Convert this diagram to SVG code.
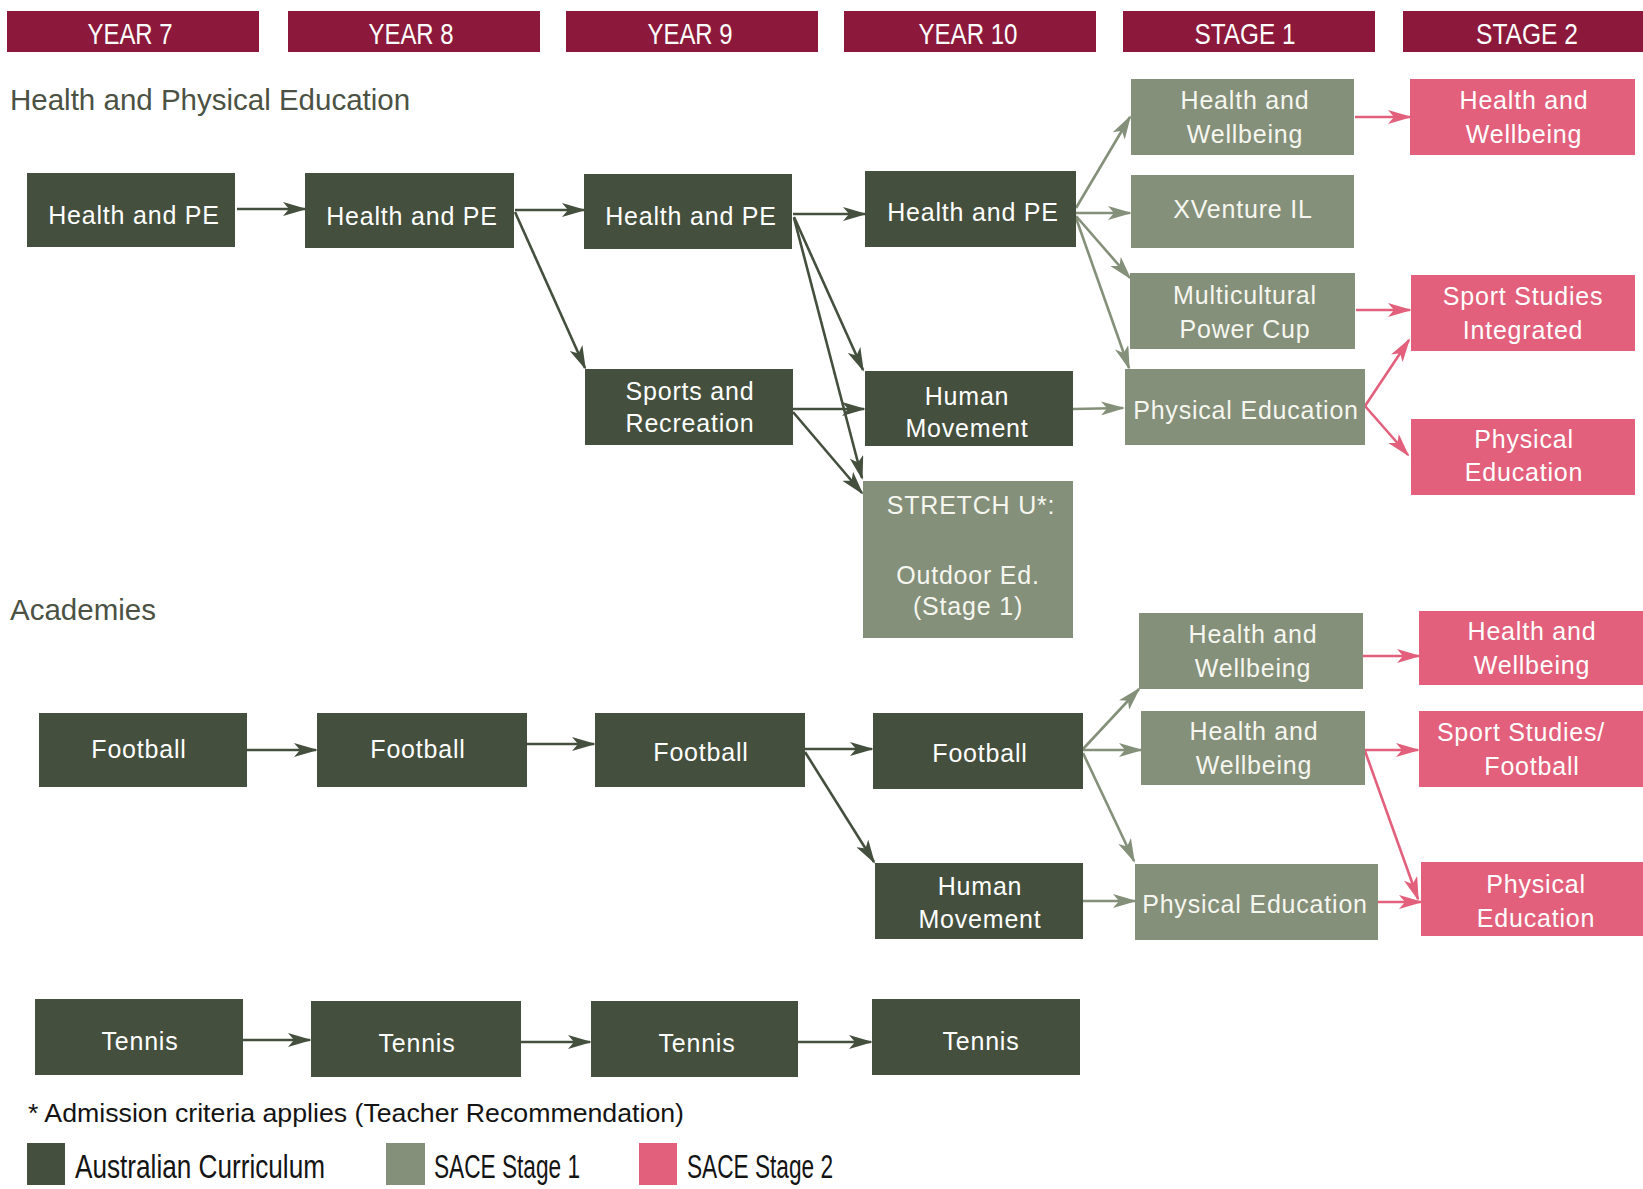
<svg xmlns="http://www.w3.org/2000/svg" width="1643" height="1189" viewBox="0 0 1643 1189">
<style>
.hd{fill:#8c193b}
.ht{font-family:'Liberation Sans',Arial,sans-serif;font-size:30px;fill:#fff;text-anchor:middle}
.sec{font-family:'Liberation Sans',Arial,sans-serif;font-size:29.5px;fill:#4b5244}
.ac{fill:#444f3e}
.s1{fill:#849079}
.s2{fill:#e2607c}
.t{font-family:'Liberation Sans',Arial,sans-serif;font-size:25px;fill:#fff;text-anchor:middle;letter-spacing:0.8px}
.t1{fill:#f6f6f0}
.cd{stroke:#444f3e;stroke-width:2.6;fill:none}
.cg{stroke:#849079;stroke-width:2.6;fill:none}
.cp{stroke:#e2607c;stroke-width:2.6;fill:none}
.note{font-family:'Liberation Sans',Arial,sans-serif;font-size:25px;fill:#141414}
.lg{font-family:'Liberation Sans Narrow','Liberation Sans',Arial,sans-serif;font-size:33px;fill:#141414}
</style>
<defs>
<marker id="ad" viewBox="0 0 24 14" refX="22" refY="7" markerWidth="24" markerHeight="14" markerUnits="userSpaceOnUse" orient="auto"><path d="M0,0 L24,7 L0,14 L6,7 z" fill="#444f3e"/></marker>
<marker id="ag" viewBox="0 0 24 14" refX="22" refY="7" markerWidth="24" markerHeight="14" markerUnits="userSpaceOnUse" orient="auto"><path d="M0,0 L24,7 L0,14 L6,7 z" fill="#849079"/></marker>
<marker id="ap" viewBox="0 0 24 14" refX="22" refY="7" markerWidth="24" markerHeight="14" markerUnits="userSpaceOnUse" orient="auto"><path d="M0,0 L24,7 L0,14 L6,7 z" fill="#e2607c"/></marker>
</defs>
<rect width="1643" height="1189" fill="#ffffff"/>

<g id="headers">
<rect class="hd" x="7" y="11" width="252" height="41"/><text class="ht" x="130" y="44" textLength="85" lengthAdjust="spacingAndGlyphs">YEAR 7</text>
<rect class="hd" x="288" y="11" width="252" height="41"/><text class="ht" x="411" y="44" textLength="85" lengthAdjust="spacingAndGlyphs">YEAR 8</text>
<rect class="hd" x="566" y="11" width="252" height="41"/><text class="ht" x="690" y="44" textLength="85" lengthAdjust="spacingAndGlyphs">YEAR 9</text>
<rect class="hd" x="844" y="11" width="252" height="41"/><text class="ht" x="968" y="44" textLength="99" lengthAdjust="spacingAndGlyphs">YEAR 10</text>
<rect class="hd" x="1123" y="11" width="252" height="41"/><text class="ht" x="1245" y="44" textLength="101" lengthAdjust="spacingAndGlyphs">STAGE 1</text>
<rect class="hd" x="1403" y="11" width="252" height="41"/><text class="ht" x="1527" y="44" textLength="102" lengthAdjust="spacingAndGlyphs">STAGE 2</text>
</g>

<text class="sec" x="10" y="110">Health and Physical Education</text>
<text class="sec" x="10" y="620">Academies</text>

<g id="connectors">
<path class="cd" marker-end="url(#ad)" d="M237,209 L305,209"/>
<path class="cd" marker-end="url(#ad)" d="M515,210 L584,210"/>
<path class="cd" marker-end="url(#ad)" d="M515,212 L585,368"/>
<path class="cd" marker-end="url(#ad)" d="M793,214 L865,214"/>
<path class="cd" marker-end="url(#ad)" d="M794,217 L863,370"/>
<path class="cd" marker-end="url(#ad)" d="M794,218 L862,478"/>
<path class="cd" marker-end="url(#ad)" d="M793,409 L864,409"/>
<path class="cd" marker-end="url(#ad)" d="M793,412 L862,493"/>
<path class="cg" marker-end="url(#ag)" d="M1076,208 L1130,117"/>
<path class="cg" marker-end="url(#ag)" d="M1076,213 L1130,213"/>
<path class="cg" marker-end="url(#ag)" d="M1076,216 L1130,278"/>
<path class="cg" marker-end="url(#ag)" d="M1076,218 L1129,368"/>
<path class="cg" marker-end="url(#ag)" d="M1073,409 L1123,408"/>
<path class="cp" marker-end="url(#ap)" d="M1355,117 L1410,117"/>
<path class="cp" marker-end="url(#ap)" d="M1356,310 L1410,310"/>
<path class="cp" marker-end="url(#ap)" d="M1365,406 L1409,340"/>
<path class="cp" marker-end="url(#ap)" d="M1365,406 L1408,455"/>
<path class="cd" marker-end="url(#ad)" d="M247,750 L316,750"/>
<path class="cd" marker-end="url(#ad)" d="M527,744 L594,744"/>
<path class="cd" marker-end="url(#ad)" d="M805,749 L872,749"/>
<path class="cd" marker-end="url(#ad)" d="M805,752 L874,862"/>
<path class="cg" marker-end="url(#ag)" d="M1083,749 L1139,689"/>
<path class="cg" marker-end="url(#ag)" d="M1083,750 L1141,750"/>
<path class="cg" marker-end="url(#ag)" d="M1083,753 L1134,861"/>
<path class="cg" marker-end="url(#ag)" d="M1083,901 L1135,901"/>
<path class="cp" marker-end="url(#ap)" d="M1363,656 L1419,656"/>
<path class="cp" marker-end="url(#ap)" d="M1365,750 L1418,750"/>
<path class="cp" marker-end="url(#ap)" d="M1365,751 L1418,899"/>
<path class="cp" marker-end="url(#ap)" d="M1378,902 L1421,902"/>
<path class="cd" marker-end="url(#ad)" d="M243,1040 L310,1040"/>
<path class="cd" marker-end="url(#ad)" d="M521,1042 L590,1042"/>
<path class="cd" marker-end="url(#ad)" d="M798,1042 L871,1042"/>
</g>

<g id="hpe7"><rect class="ac" x="27" y="173" width="208" height="74"/><text class="t" x="134" y="224">Health and PE</text></g>
<g id="hpe8"><rect class="ac" x="305" y="173" width="209" height="75"/><text class="t" x="412" y="225">Health and PE</text></g>
<g id="hpe9"><rect class="ac" x="584" y="174" width="208" height="75"/><text class="t" x="691" y="225">Health and PE</text></g>
<g id="hpe10"><rect class="ac" x="865" y="171" width="211" height="76"/><text class="t" x="973" y="221">Health and PE</text></g>
<g id="sportsrec"><rect class="ac" x="585" y="369" width="208" height="76"/><text class="t" x="690" y="400">Sports and</text><text class="t" x="690" y="432">Recreation</text></g>
<g id="hm1"><rect class="ac" x="865" y="371" width="208" height="75"/><text class="t" x="967" y="405">Human</text><text class="t" x="967" y="437">Movement</text></g>
<g id="stretch"><rect class="s1" x="863" y="481" width="210" height="157"/><text class="t t1" x="971" y="514">STRETCH U*:</text><text class="t t1" x="968" y="584">Outdoor Ed.</text><text class="t t1" x="968" y="615">(Stage 1)</text></g>
<g id="s1hw"><rect class="s1" x="1131" y="79" width="223" height="76"/><text class="t t1" x="1245" y="109">Health and</text><text class="t t1" x="1245" y="143">Wellbeing</text></g>
<g id="s1xv"><rect class="s1" x="1131" y="175" width="223" height="73"/><text class="t t1" x="1243" y="218">XVenture IL</text></g>
<g id="s1mpc"><rect class="s1" x="1130" y="273" width="225" height="76"/><text class="t t1" x="1245" y="304">Multicultural</text><text class="t t1" x="1245" y="338">Power Cup</text></g>
<g id="s1pe"><rect class="s1" x="1125" y="369" width="240" height="76"/><text class="t t1" x="1246" y="419">Physical Education</text></g>
<g id="s2hw"><rect class="s2" x="1410" y="79" width="225" height="76"/><text class="t" x="1524" y="109">Health and</text><text class="t" x="1524" y="143">Wellbeing</text></g>
<g id="s2ssi"><rect class="s2" x="1411" y="275" width="224" height="76"/><text class="t" x="1523" y="305">Sport Studies</text><text class="t" x="1523" y="339">Integrated</text></g>
<g id="s2pe"><rect class="s2" x="1411" y="419" width="224" height="76"/><text class="t" x="1524" y="448">Physical</text><text class="t" x="1524" y="481">Education</text></g>

<g id="fb7"><rect class="ac" x="39" y="713" width="208" height="74"/><text class="t" x="139" y="758">Football</text></g>
<g id="fb8"><rect class="ac" x="317" y="713" width="210" height="74"/><text class="t" x="418" y="758">Football</text></g>
<g id="fb9"><rect class="ac" x="595" y="713" width="210" height="74"/><text class="t" x="701" y="761">Football</text></g>
<g id="fb10"><rect class="ac" x="873" y="713" width="210" height="76"/><text class="t" x="980" y="762">Football</text></g>
<g id="hm2"><rect class="ac" x="875" y="863" width="208" height="76"/><text class="t" x="980" y="895">Human</text><text class="t" x="980" y="928">Movement</text></g>
<g id="a1hw1"><rect class="s1" x="1139" y="613" width="224" height="76"/><text class="t t1" x="1253" y="643">Health and</text><text class="t t1" x="1253" y="677">Wellbeing</text></g>
<g id="a1hw2"><rect class="s1" x="1141" y="711" width="224" height="74"/><text class="t t1" x="1254" y="740">Health and</text><text class="t t1" x="1254" y="774">Wellbeing</text></g>
<g id="a1pe"><rect class="s1" x="1135" y="864" width="243" height="76"/><text class="t t1" x="1255" y="913">Physical Education</text></g>
<g id="a2hw"><rect class="s2" x="1419" y="611" width="224" height="74"/><text class="t" x="1532" y="640">Health and</text><text class="t" x="1532" y="674">Wellbeing</text></g>
<g id="a2ssf"><rect class="s2" x="1419" y="711" width="224" height="76"/><text class="t" x="1521" y="741">Sport Studies/</text><text class="t" x="1532" y="775">Football</text></g>
<g id="a2pe"><rect class="s2" x="1421" y="862" width="222" height="74"/><text class="t" x="1536" y="893">Physical</text><text class="t" x="1536" y="927">Education</text></g>

<g id="t7"><rect class="ac" x="35" y="999" width="208" height="76"/><text class="t" x="140" y="1050">Tennis</text></g>
<g id="t8"><rect class="ac" x="311" y="1001" width="210" height="76"/><text class="t" x="417" y="1052">Tennis</text></g>
<g id="t9"><rect class="ac" x="591" y="1001" width="207" height="76"/><text class="t" x="697" y="1052">Tennis</text></g>
<g id="t10"><rect class="ac" x="872" y="999" width="208" height="76"/><text class="t" x="981" y="1050">Tennis</text></g>

<text class="note" x="28" y="1122" textLength="656" lengthAdjust="spacingAndGlyphs">* Admission criteria applies (Teacher Recommendation)</text>

<g id="legend">
<rect class="ac" x="27" y="1143" width="38" height="42"/>
<text class="lg" x="75" y="1178" textLength="250" lengthAdjust="spacingAndGlyphs">Australian Curriculum</text>
<rect class="s1" x="386" y="1143" width="39" height="42"/>
<text class="lg" x="434" y="1178" textLength="146" lengthAdjust="spacingAndGlyphs">SACE Stage 1</text>
<rect class="s2" x="639" y="1143" width="38" height="42"/>
<text class="lg" x="687" y="1178" textLength="146" lengthAdjust="spacingAndGlyphs">SACE Stage 2</text>
</g>
</svg>
